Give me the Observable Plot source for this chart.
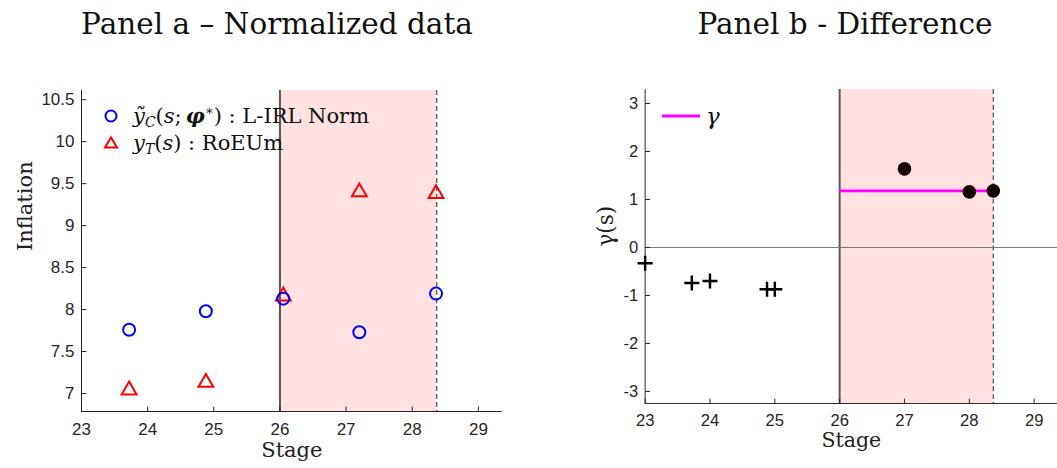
<!DOCTYPE html>
<html>
<head>
<meta charset="utf-8">
<script src="https://cdn.jsdelivr.net/npm/d3@7"></script>
<script src="https://cdn.jsdelivr.net/npm/@observablehq/plot@0.6"></script>
<style>
  html, body { margin: 0; padding: 0; background: #fff; }
  body { width: 1057px; height: 468px; overflow: hidden; position: relative; }
  .title { position: absolute; top: 10px; font-family: "DejaVu Serif", serif; font-size: 29.5px; line-height: 29.5px; color: #111; white-space: nowrap; transform: translateX(-50%); }
  .panel { position: absolute; top: 50px; }
  .legend { position: absolute; font-family: "DejaVu Serif", serif; font-size: 21px; color: #111; white-space: nowrap; }
  .legend .row { position: absolute; left: 0; display: flex; align-items: center; }
  .legend sub { font-size: 14px; vertical-align: -4px; line-height: 0; }
  .legend sup { font-size: 13px; vertical-align: 8px; line-height: 0; }
</style>
</head>
<body>
<div class="title" style="left:277px">Panel a – Normalized data</div>
<div class="title" style="left:845px">Panel b - Difference</div>
<div id="panelA" class="panel" style="left:0px"></div>
<div id="panelB" class="panel" style="left:528px"></div>

<div class="legend" style="left:103px; top:103px">
  <div class="row" style="top:0px">
    <svg width="16" height="16" style="margin-right:14px"><circle cx="8" cy="8" r="5.5" fill="none" stroke="#0000ff" stroke-width="2"/></svg>
    <span><i>ỹ</i><sub><i>C</i></sub>(<i>s</i>;&#8201;<b><i>φ</i></b><sup>∗</sup>) : L-IRL Norm</span>
  </div>
  <div class="row" style="top:28px">
    <svg width="16" height="16" style="margin-right:14px"><path d="M8,2.5 L14,12.5 L2,12.5 Z" fill="none" stroke="#ff0000" stroke-width="2" stroke-linejoin="miter"/></svg>
    <span><i>y</i><sub><i>T</i></sub>(<i>s</i>) : RoEUm</span>
  </div>
</div>
<div class="legend" style="left:662px; top:102px; font-size:23px">
  <div class="row" style="top:0px">
    <svg width="40" height="28" style="margin-right:4px"><line x1="0" y1="14" x2="38" y2="14" stroke="#ff00ff" stroke-width="3"/></svg>
    <span><i>γ</i></span>
  </div>
</div>

<script>
// Stage axis ticks shared by both panels
const stageTicks = [23, 24, 25, 26, 27, 28, 29];
const stageDomain = [23, 29.36];

// Treatment window (shaded)
const treatStart = [26];
const treatEnd = [28.37];

// Panel a: normalized inflation series
const stagesA = [23.72, 24.88, 26.05, 27.2, 28.36];
const lirlNorm = [7.76, 7.98, 8.13, 7.73, 8.19];
const roeum = [7.04, 7.13, 8.16, 9.40, 9.38];
const inflationTicks = [7, 7.5, 8, 8.5, 9, 9.5, 10, 10.5];
const inflationDomain = [6.785, 10.61];

// Panel b: difference gamma(s)
const stagesPre = [23.0, 23.72, 24.0, 24.88, 25.0];
const gammaPre = [-0.33, -0.74, -0.70, -0.87, -0.87];
const stagesPost = [27.0, 28.0, 28.37];
const gammaPost = [1.64, 1.16, 1.18];
const gammaEstimate = [1.18];
const gammaTicks = [-3, -2, -1, 0, 1, 2, 3];
const gammaDomain = [-3.25, 3.29];

const axisColor = "#262626";
const shadeColor = "#ffe1e2";

// Inward tick marks (drawn as custom dot symbols)
const tickUp = { draw(ctx) { ctx.moveTo(0, 0); ctx.lineTo(0, -5); } };
const tickRight = { draw(ctx) { ctx.moveTo(0, 0); ctx.lineTo(5, 0); } };

const baseStyle = {
  fontFamily: "'Liberation Sans', Arial, sans-serif",
  fontSize: "17px",
  color: axisColor,
  background: "transparent",
  overflow: "visible"
};

function frameMarks(yDomain, yTicks) {
  const [y0] = yDomain;
  return [
    Plot.ruleY([y0], { stroke: axisColor, strokeWidth: 1 }),
    Plot.ruleX([stageDomain[0]], { stroke: axisColor, strokeWidth: 1 }),
    Plot.dot(stageTicks, { x: d => d, y: () => y0, symbol: tickUp, stroke: axisColor, strokeWidth: 1, fill: "none" }),
    Plot.dot(yTicks, { x: () => stageDomain[0], y: d => d, symbol: tickRight, stroke: axisColor, strokeWidth: 1, fill: "none" }),
    Plot.axisX({ ticks: stageTicks, tickSize: 0, tickPadding: 11, tickFormat: d => String(d), label: null }),
    Plot.axisY({ ticks: yTicks, tickSize: 0, tickPadding: 7, tickFormat: d => String(d), label: null }),
    Plot.text(["Stage"], { frameAnchor: "bottom", lineAnchor: "bottom", dy: 45, fontFamily: "'DejaVu Serif', serif", fontSize: 21, fill: "#222" })
  ];
}

function shading(yDomain) {
  return [
    Plot.rect(treatStart.map((s, i) => ({ s, e: treatEnd[i] })), {
      x1: "s", x2: "e", y1: () => yDomain[0], y2: () => yDomain[1], fill: shadeColor
    }),
    Plot.ruleX(treatStart, { stroke: "#555", strokeWidth: 2 }),
    Plot.ruleX(treatEnd, { stroke: "#555", strokeWidth: 1.3, strokeDasharray: "5,3" })
  ];
}

// Panel a
const dataA = stagesA.map((s, i) => ({ s, model: lirlNorm[i], target: roeum[i] }));
const plotA = Plot.plot({
  width: 528,
  height: 418,
  marginLeft: 81,
  marginRight: 26.3,
  marginTop: 40,
  marginBottom: 57,
  style: baseStyle,
  x: { domain: stageDomain, label: null },
  y: { domain: inflationDomain, label: null },
  marks: [
    ...shading(inflationDomain),
    ...frameMarks(inflationDomain, inflationTicks),
    Plot.dot(dataA, { x: "s", y: "target", symbol: "triangle", r: 5.5, stroke: "#ff0000", strokeWidth: 2, fill: "none" }),
    Plot.dot(dataA, { x: "s", y: "model", symbol: "circle", r: 6, stroke: "#0000ff", strokeWidth: 2, fill: "none" }),
    Plot.text(["Inflation"], { frameAnchor: "left", rotate: -90, lineAnchor: "bottom", dx: -50, fontFamily: "'DejaVu Serif', serif", fontSize: 21, fill: "#222" })
  ]
});
document.getElementById("panelA").append(plotA);

// Panel b
const pre = stagesPre.map((s, i) => ({ s, g: gammaPre[i] }));
const post = stagesPost.map((s, i) => ({ s, g: gammaPost[i] }));
const plotB = Plot.plot({
  width: 541,
  height: 418,
  marginLeft: 119.3,
  marginRight: 0,
  marginTop: 40,
  marginBottom: 57,
  style: baseStyle,
  x: { domain: stageDomain, label: null },
  y: { domain: gammaDomain, label: null },
  marks: [
    ...shading(gammaDomain),
    Plot.ruleY([0], { stroke: "#777", strokeWidth: 1 }),
    ...frameMarks(gammaDomain, gammaTicks),
    Plot.ruleY(gammaEstimate, { x1: treatStart[0], x2: treatEnd[0], stroke: "#ff00ff", strokeWidth: 3 }),
    Plot.dot(pre, { x: "s", y: "g", symbol: "plus", r: 5, stroke: "#000", strokeWidth: 2.5 }),
    Plot.dot(post, { x: "s", y: "g", r: 7, fill: "#140000", stroke: "none" }),
    Plot.text(["γ(s)"], { frameAnchor: "left", rotate: -90, dx: -40, fontFamily: "'DejaVu Serif', serif", fontSize: 22, fill: "#222" })
  ]
});
document.getElementById("panelB").append(plotB);
</script>
</body>
</html>
